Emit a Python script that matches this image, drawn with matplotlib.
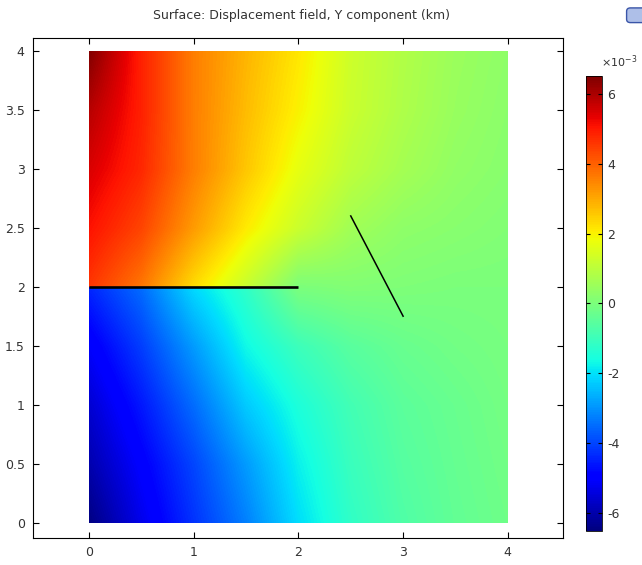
import numpy as np
import matplotlib.pyplot as plt
from matplotlib.patches import Rectangle, FancyBboxPatch

# grid nodes (km)
x_nodes = [0, 0.5, 1, 1.5, 2, 2.5, 3, 3.5, 4]
y_upper = [2, 2.5, 3, 3.5, 4]
y_lower = [0, 0.5, 1, 1.5, 2]

# displacement Y component, units of 1e-3 km, rows follow y_upper / y_lower
disp_upper = [
    [4.6, 3.7, 2.3, 1.2, 0.0, 0.1, 0.05, 0.0, 0.0],
    [5.1, 4.4, 3.2, 2.1, 1.25, 0.6, 0.3, 0.2, 0.1],
    [5.5, 4.8, 3.6, 2.6, 1.7, 1.05, 0.65, 0.35, 0.2],
    [5.9, 4.9, 3.6, 2.75, 2.0, 1.25, 0.8, 0.45, 0.25],
    [6.5, 4.9, 3.6, 2.85, 2.15, 1.3, 0.85, 0.5, 0.3],
]
disp_lower = [
    [-6.5, -5.3, -4.25, -3.25, -2.05, -1.2, -0.7, -0.4, -0.2],
    [-6.0, -5.0, -4.0, -2.9, -1.8, -1.05, -0.6, -0.35, -0.15],
    [-5.6, -4.6, -3.5, -2.3, -1.5, -0.9, -0.5, -0.3, -0.1],
    [-5.1, -4.1, -2.9, -1.7, -1.0, -0.55, -0.3, -0.15, -0.05],
    [-4.4, -3.5, -2.1, -1.2, 0.0, 0.1, 0.05, 0.0, 0.0],
]

# fault traces
fault1_x = [0, 2]
fault1_y = [2, 2]
fault2_x = [2.5, 3.0]
fault2_y = [2.6, 1.75]

cbar_ticks = [-6, -4, -2, 0, 2, 4, 6]
vmin, vmax = -6.53, 6.53

fig = plt.figure(figsize=(6.42, 5.65), dpi=100)
ax = fig.add_axes([0.0514, 0.0483, 0.8255, 0.885])

dx = 0.5
def draw_block(z, ys):
    ext = [x_nodes[0] - dx/2, x_nodes[-1] + dx/2, ys[0] - dx/2, ys[-1] + dx/2]
    im = ax.imshow(np.array(z), extent=ext, origin='lower', cmap='jet',
                   vmin=vmin, vmax=vmax, interpolation='bilinear', aspect='auto')
    clip = Rectangle((x_nodes[0], ys[0]), x_nodes[-1] - x_nodes[0], ys[-1] - ys[0],
                     transform=ax.transData, fill=False, lw=0)
    ax.add_patch(clip)
    im.set_clip_path(clip)
    return im

im = draw_block(disp_upper, y_upper)
draw_block(disp_lower, y_lower)

ax.plot(fault1_x, fault1_y, color='black', lw=1.9, solid_capstyle='butt')
ax.plot(fault2_x, fault2_y, color='black', lw=1.1)

ax.set_xlim(-0.535, 4.527)
ax.set_ylim(-0.129, 4.112)
ax.set_xticks([0, 1, 2, 3, 4])
ax.set_yticks([0, 0.5, 1, 1.5, 2, 2.5, 3, 3.5, 4])
ax.set_yticklabels(['0', '0.5', '1', '1.5', '2', '2.5', '3', '3.5', '4'])
ax.tick_params(direction='in', top=True, right=True, length=4, width=0.8,
               labelsize=9, labelcolor='#333333', pad=6)
for s in ax.spines.values():
    s.set_linewidth(0.8)

fig.text(0.469, 1 - 15/565, 'Surface: Displacement field, Y component (km)',
         ha='center', va='center', fontsize=9, color='#333333')

# colour legend
cax = fig.add_axes([0.9128, 0.0602, 0.0249, 0.8053])
cb = fig.colorbar(im, cax=cax, ticks=cbar_ticks)
cb.outline.set_linewidth(0.6)
cax.tick_params(direction='in', left=True, right=True, length=3, width=0.8,
                labelsize=9, labelcolor='#333333', pad=4)
cax.set_yticklabels([str(t) for t in cbar_ticks])
fig.text(0.936, 1 - 62/565, r'$\times$10$^{-3}$', ha='left', va='center',
         fontsize=8, color='#333333')

# small badge in the top right corner
fig.patches.append(FancyBboxPatch((0.978, 0.962), 0.03, 0.022,
                                  boxstyle='round,pad=0.002,rounding_size=0.006',
                                  transform=fig.transFigure, fc='#aebfe8',
                                  ec='#3a55a8', lw=1.0))

fig.savefig('out.png', dpi=100)
